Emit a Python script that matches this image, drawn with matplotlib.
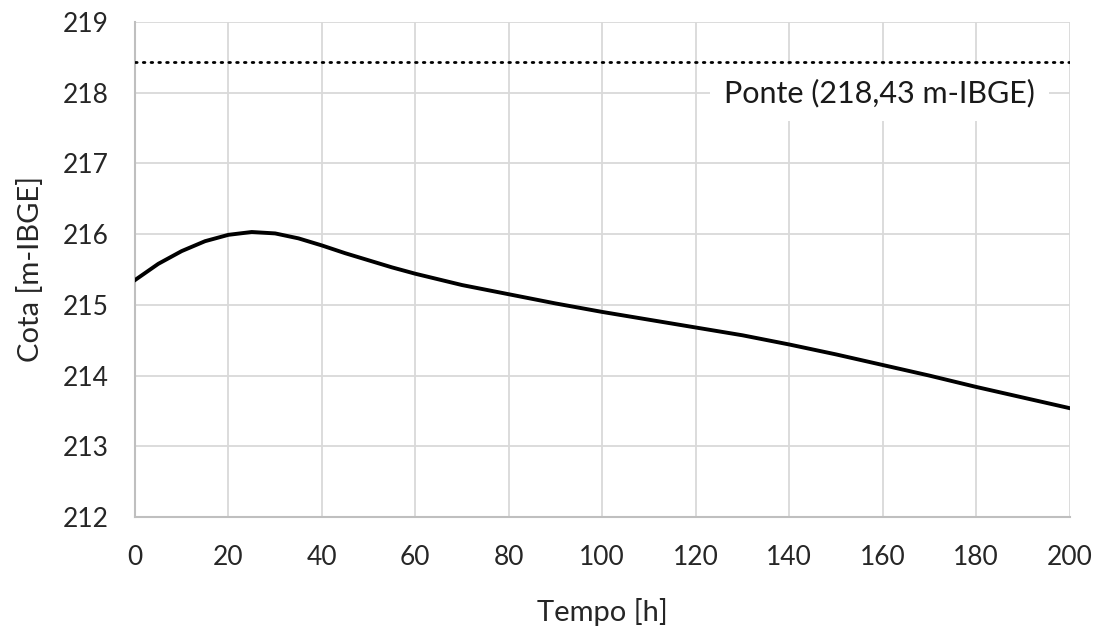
import numpy as np
import matplotlib.pyplot as plt

# leitura aproximada da curva de cota
tempo = [0, 5, 10, 15, 20, 25, 30, 35, 40, 45, 50, 55, 60, 70, 80, 90, 100, 110, 120,
         130, 140, 150, 160, 170, 180, 190, 200]
cota = [215.35, 215.58, 215.76, 215.90, 215.99, 216.03, 216.01, 215.94, 215.84, 215.73,
        215.63, 215.53, 215.44, 215.28, 215.15, 215.02, 214.90, 214.79, 214.68,
        214.57, 214.44, 214.30, 214.15, 214.00, 213.84, 213.69, 213.54]
cota_ponte = 218.43
rotulo_ponte = 'Ponte (218,43 m-IBGE)'

plt.rcParams['font.family'] = ['Lato', 'DejaVu Sans']

fig = plt.figure(figsize=(10.97, 6.26), dpi=100)
ax = fig.add_axes([0.123, 0.174, 0.852, 0.791])

ax.plot(tempo, cota, color='black', lw=2.8, solid_joinstyle='round', zorder=3)
ax.axhline(cota_ponte, color='black', lw=2, linestyle=(0, (0.6, 2.2)), dash_capstyle='round', zorder=3)
ax.text(159.3, 218.0, rotulo_ponte, fontsize=22, ha='center', va='center', color='#1a1a1a',
        bbox=dict(facecolor='white', edgecolor='none', pad=10), zorder=2)

ax.set_xlim(0, 200)
ax.set_ylim(212, 219)
ax.set_xticks(np.arange(0, 201, 20))
ax.set_yticks(np.arange(212, 220, 1))
ax.grid(True, color='#d9d9d9', lw=1.3)
ax.set_axisbelow(True)
for s in ['top', 'right']:
    ax.spines[s].set_visible(False)
for s in ['left', 'bottom']:
    ax.spines[s].set_color('#bfbfbf')
    ax.spines[s].set_linewidth(1.5)
ax.tick_params(length=0, labelsize=19, colors='#262626')
ax.tick_params(axis='y', pad=19)
ax.tick_params(axis='x', pad=20)
ax.set_xlabel('Tempo [h]', fontsize=21, color='#262626', labelpad=20)
ax.set_ylabel('Cota [m-IBGE]', fontsize=21, color='#262626', labelpad=13)

fig.savefig('out.png', dpi=100)
